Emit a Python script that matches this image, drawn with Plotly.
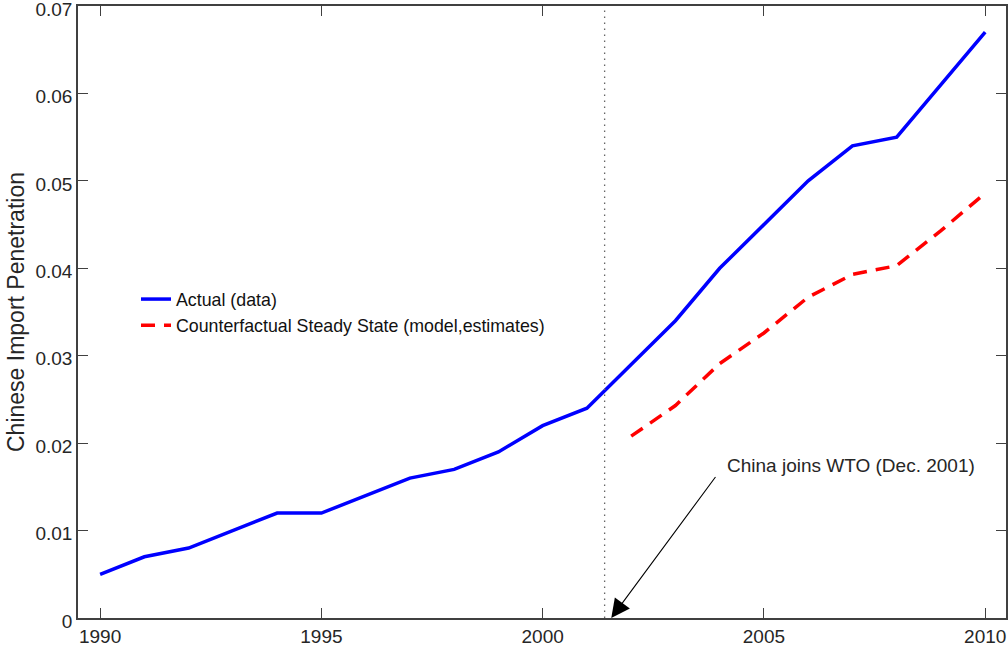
import plotly.graph_objects as go

years = list(range(1990, 2011))
actual = [0.005, 0.007, 0.008, 0.010, 0.012, 0.012, 0.014, 0.016, 0.017, 0.019,
          0.022, 0.024, 0.029, 0.034, 0.040, 0.045, 0.050, 0.054, 0.055, 0.061, 0.067]
cf_years = list(range(2002, 2011))
counterfactual = [0.0208, 0.0243, 0.0291, 0.0326, 0.0367, 0.0393, 0.0403, 0.0443, 0.0486]
wto_x = 2001.4
yticks = [0, 0.01, 0.02, 0.03, 0.04, 0.05, 0.06, 0.07]
ytick_labels = ["0", "0.01", "0.02", "0.03", "0.04", "0.05", "0.06", "0.07"]
xticks = [1990, 1995, 2000, 2005, 2010]

FONT = "Liberation Sans, Arial, sans-serif"
AX = "#404040"
TXT = "#262626"

fig = go.Figure()
fig.add_trace(go.Scatter(x=years, y=actual, mode="lines", name="Actual (data)",
                         line=dict(color="#0000ff", width=3.5)))
fig.add_trace(go.Scatter(x=cf_years, y=counterfactual, mode="lines",
                         name="Counterfactual Steady State (model,estimates)",
                         line=dict(color="#ff0000", width=3.5, dash="14px,9px")))

fig.add_shape(type="line", x0=wto_x, x1=wto_x, y0=0, y1=0.07, xref="x", yref="y",
              line=dict(color="#666666", width=1.3, dash="1.5px,4.5px"))

fig.add_annotation(x=2001.55, y=0, ax=2003.93, ay=0.0163, xref="x", yref="y",
                   axref="x", ayref="y", text="", showarrow=True,
                   arrowhead=2, arrowsize=3.4, arrowwidth=1.1, arrowcolor="black",
                   standoff=0, startstandoff=0)
fig.add_annotation(x=2004.11, y=0.0174, xref="x", yref="y", text="China joins WTO (Dec. 2001)",
                   showarrow=False, xanchor="left", yanchor="middle",
                   font=dict(family=FONT, size=19, color=TXT))

fig.update_layout(
    width=1008, height=649,
    margin=dict(l=78, r=2, t=6, b=31, autoexpand=False),
    paper_bgcolor="white", plot_bgcolor="white",
    font=dict(family=FONT, size=18, color=TXT),
    showlegend=True,
    legend=dict(x=(136 - 78) / 928, y=(618 - 281) / 612, xanchor="left", yanchor="top",
                bgcolor="rgba(0,0,0,0)", borderwidth=0, font=dict(size=17.8, color="#111111"),
                tracegroupgap=0, itemwidth=30),
)
fig.update_xaxes(range=[1989.5, 2010.47], tickvals=xticks, ticks="inside", ticklen=10,
                 tickcolor=AX, tickwidth=1, showline=True, linecolor=AX, linewidth=1.5,
                 mirror="ticks", showgrid=False, zeroline=False, ticklabeloverflow="allow",
                 automargin=False, tickfont=dict(size=19, color=TXT))
fig.update_yaxes(range=[0, 0.07], tickvals=yticks, ticktext=ytick_labels, ticks="inside",
                 ticklen=10, tickcolor=AX, tickwidth=1, showline=True, linecolor=AX,
                 linewidth=1.5, mirror="ticks", showgrid=False, zeroline=False,
                 ticklabeloverflow="allow", automargin=False, ticklabelshift=3,
                 tickfont=dict(size=19, color=TXT),
                 title=dict(text="Chinese Import Penetration", font=dict(size=23, color=TXT),
                            standoff=4))

fig.write_html("out.html")
